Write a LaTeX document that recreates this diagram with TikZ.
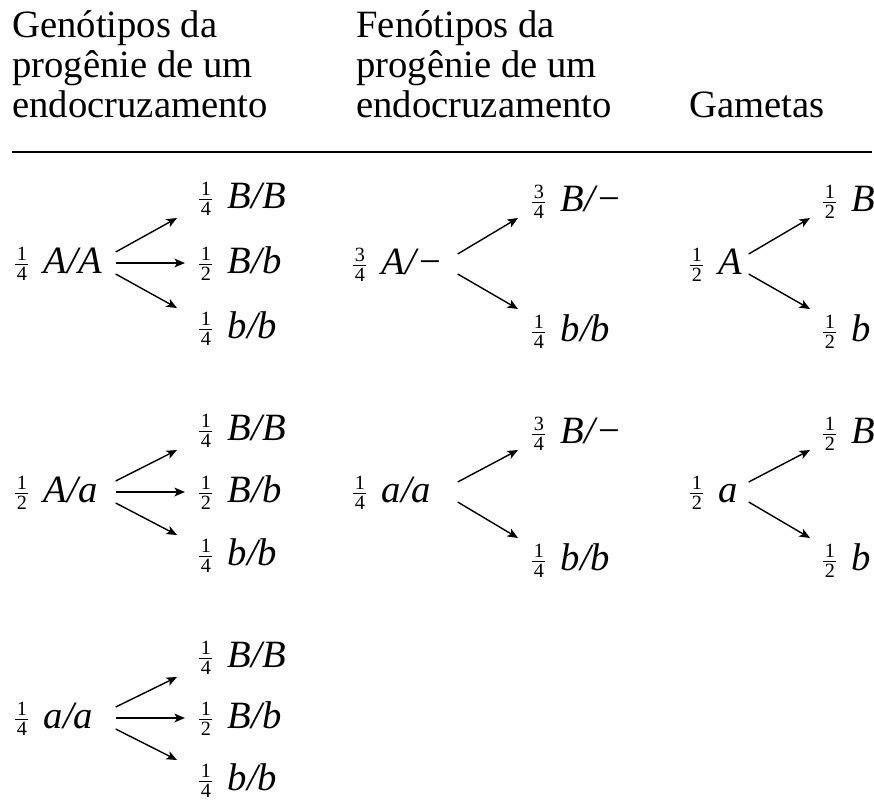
\documentclass[tikz,border=0pt]{standalone}
\usepackage{fontspec}
\setmainfont{Liberation Serif}
\usetikzlibrary{arrows.meta}

% small stacked fraction, centred on the math axis
\newcommand\frc[2]{$\vcenter{\offinterlineskip\fontsize{11.5}{11.5}\selectfont
  \halign{\hfil\kern0.8pt##\kern0.8pt\hfil\cr
    \vrule height8.5pt depth2pt width0pt#1\cr
    \noalign{\hrule height0.5pt}
    \vrule height9pt depth1pt width0pt#2\cr}}$\hspace{0.4em}}

\begin{document}
\begin{tikzpicture}[
  x=0.02cm, y=-0.02cm,
  every node/.style={font=\fontsize{22}{22.8}\selectfont},
  head/.style={anchor=base west, inner sep=0pt, align=left},
  lbl/.style={anchor=base west, inner sep=0pt},
  par1/.style={lbl, text width=2cm},
  par2/.style={lbl, text width=2.08cm},
  par3/.style={lbl, text width=1.16cm},
  arr/.style={-{Stealth[length=6pt, width=5pt, inset=1.5pt]}, line width=0.8pt},
]
\useasboundingbox (0,0) rectangle (874,804);

%% Column headings
\node[head] (hg) at (12, 118)  {Genótipos da\\progênie de um\\endocruzamento};
\node[head] (hf) at (356, 118) {Fenótipos da\\progênie de um\\endocruzamento};
\node[head] (hm) at (689, 118) {Gametas};
\draw[line width=1.2pt] (12, 152) -- (872, 152);

%% Genotypes of the progeny
\node[par1] (g1) at (15, 273) {\frc14\textit{A/A}};
\node[lbl] (g1-a) at (199, 208) {\frc14\textit{B/B}};
\node[lbl] (g1-b) at (199, 273) {\frc12\textit{B/b}};
\node[lbl] (g1-c) at (199, 338) {\frc14\textit{b/b}};

\node[par1] (g2) at (15, 502) {\frc12\textit{A/a}};
\node[lbl] (g2-a) at (199, 440) {\frc14\textit{B/B}};
\node[lbl] (g2-b) at (199, 502) {\frc12\textit{B/b}};
\node[lbl] (g2-c) at (199, 565) {\frc14\textit{b/b}};

\node[par1] (g3) at (15, 728) {\frc14\textit{a/a}};
\node[lbl] (g3-a) at (199, 667) {\frc14\textit{B/B}};
\node[lbl] (g3-b) at (199, 728) {\frc12\textit{B/b}};
\node[lbl] (g3-c) at (199, 790) {\frc14\textit{b/b}};

\foreach \p in {g1, g2, g3} {
  \draw[arr] ([shift={(0,-21)}]\p.base east) -- ([shift={(-22,10)}]\p-a.base west);
  \draw[arr] ([shift={(0,-10)}]\p.base east) -- ([shift={(-14,-10)}]\p-b.base west);
  \draw[arr] ([shift={(0,1)}]\p.base east) -- ([shift={(-22,-30)}]\p-c.base west);
}

%% Phenotypes of the progeny
\node[par2] (f1) at (353, 274) {\frc34\textit{A/}−};
\node[lbl] (f1-a) at (532, 211) {\frc34\textit{B/}−};
\node[lbl] (f1-b) at (532, 341) {\frc14\textit{b/b}};

\node[par2] (f2) at (353, 502) {\frc14\textit{a/a}};
\node[lbl] (f2-a) at (532, 443) {\frc34\textit{B/}−};
\node[lbl] (f2-b) at (532, 570) {\frc14\textit{b/b}};

%% Gametes
\node[par3] (m1) at (690, 274) {\frc12\textit{A}};
\node[lbl] (m1-a) at (823, 211) {\frc12\textit{B}};
\node[lbl] (m1-b) at (823, 341) {\frc12\textit{b}};

\node[par3] (m2) at (690, 502) {\frc12\textit{a}};
\node[lbl] (m2-a) at (823, 443) {\frc12\textit{B}};
\node[lbl] (m2-b) at (823, 570) {\frc12\textit{b}};

\foreach \p/\dx in {f1/-14, f2/-14, m1/-13, m2/-13} {
  \draw[arr] ([shift={(0,-20)}]\p.base east) -- ([shift={(\dx,7)}]\p-a.base west);
  \draw[arr] ([shift={(0,0)}]\p.base east) -- ([shift={(\dx,-32)}]\p-b.base west);
}

\end{tikzpicture}
\end{document}
